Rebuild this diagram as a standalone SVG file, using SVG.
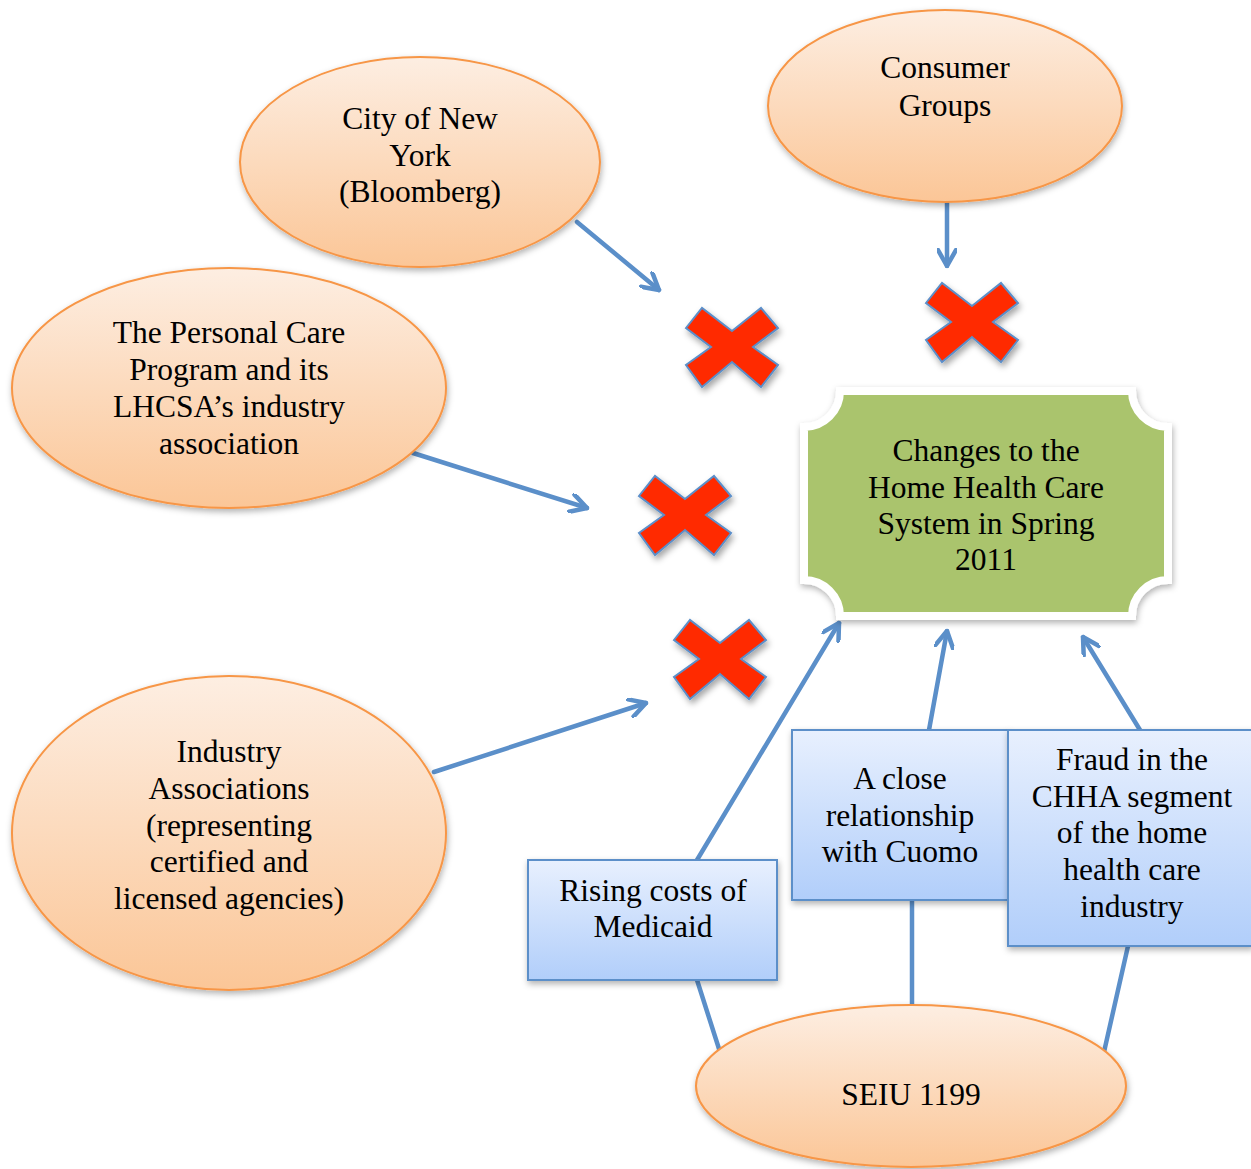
<svg xmlns="http://www.w3.org/2000/svg" width="1251" height="1169" viewBox="0 0 1251 1169">
<style>
text{font-family:"Liberation Serif","Times New Roman",serif;font-size:31.5px;fill:#000;text-anchor:middle}
.ell{fill:url(#peach);stroke:#f79646;stroke-width:2;filter:url(#sh)}
.box{fill:url(#blue);stroke:#5b8fc9;stroke-width:2;filter:url(#sh)}
.con{stroke:#5b8fc9;stroke-width:4.5;fill:none;stroke-linecap:round}
.arr{marker-end:url(#ah)}
.x{fill:#ff2a00;stroke:#5b8fc9;stroke-width:2;filter:url(#sh2)}
</style>
<defs>
<linearGradient id="peach" x1="0" y1="0" x2="0" y2="1">
<stop offset="0" stop-color="#fdeee2"/>
<stop offset="1" stop-color="#fbc697"/>
</linearGradient>
<linearGradient id="blue" x1="0" y1="0" x2="0" y2="1">
<stop offset="0" stop-color="#e8f0fe"/>
<stop offset="1" stop-color="#b1cefa"/>
</linearGradient>
<filter id="sh" x="-10%" y="-10%" width="125%" height="130%">
<feDropShadow dx="1" dy="3" stdDeviation="3" flood-color="#000" flood-opacity="0.3"/>
</filter>
<filter id="sh2" x="-20%" y="-20%" width="150%" height="150%">
<feDropShadow dx="2" dy="4" stdDeviation="3" flood-color="#000" flood-opacity="0.35"/>
</filter>
<marker id="ah" viewBox="0 0 20 20" refX="18" refY="10" markerWidth="20" markerHeight="20" markerUnits="userSpaceOnUse" orient="auto">
<path d="M2,1 L18,10 L2,19" fill="none" stroke="#5b8fc9" stroke-width="4.5" stroke-linecap="round" stroke-linejoin="round"/>
</marker>
<path id="xm" d="M-46,-19 L-30,-39 L0,-16 L29,-39 L46,-19 L21,0 L46,18 L29,40 L0,15 L-30,40 L-46,18 L-21,0 Z"/>
</defs>
<rect width="1251" height="1169" fill="#fff"/>

<g id="connectors">
<line class="con arr" x1="577" y1="222" x2="659" y2="290"/>
<line class="con arr" x1="947" y1="198" x2="947" y2="266"/>
<line class="con arr" x1="413" y1="453" x2="587" y2="508"/>
<line class="con arr" x1="434" y1="772" x2="646" y2="703"/>
<line class="con arr" x1="697" y1="860" x2="839" y2="623"/>
<line class="con arr" x1="929" y1="730" x2="947" y2="631"/>
<line class="con arr" x1="1140" y1="730" x2="1083" y2="637"/>
<line class="con" x1="697" y1="980" x2="720" y2="1052"/>
<line class="con" x1="912" y1="900" x2="912" y2="1005"/>
<line class="con" x1="1128" y1="946" x2="1104" y2="1052"/>
</g>

<g id="crosses">
<use href="#xm" class="x" x="732" y="347"/>
<use href="#xm" class="x" x="972" y="322"/>
<use href="#xm" class="x" x="685" y="515"/>
<use href="#xm" class="x" x="720" y="659"/>
</g>

<g id="node-city">
<ellipse class="ell" cx="420" cy="162" rx="180" ry="105"/>
<text x="420" y="129">City of New</text>
<text x="420" y="166">York</text>
<text x="420" y="202">(Bloomberg)</text>
</g>

<g id="node-consumer">
<ellipse class="ell" cx="945" cy="106" rx="177" ry="96"/>
<text x="945" y="78">Consumer</text>
<text x="945" y="116">Groups</text>
</g>

<g id="node-personal">
<ellipse class="ell" cx="229" cy="388" rx="217" ry="120"/>
<text x="229" y="343">The Personal Care</text>
<text x="229" y="380">Program and its</text>
<text x="229" y="417">LHCSA’s industry</text>
<text x="229" y="454">association</text>
</g>

<g id="node-industry">
<ellipse class="ell" cx="229" cy="833" rx="217" ry="157"/>
<text x="229" y="762">Industry</text>
<text x="229" y="799">Associations</text>
<text x="229" y="836">(representing</text>
<text x="229" y="872">certified and</text>
<text x="229" y="909">licensed agencies)</text>
</g>

<g id="node-changes">
<path d="M840,391 H1132 A36,36 0 0 0 1168,427 V580 A36,36 0 0 0 1132,616 H840 A36,36 0 0 0 804,580 V427 A36,36 0 0 0 840,391 Z" fill="#aac46d" stroke="#fff" stroke-width="8" filter="url(#sh)"/>
<text x="986" y="461">Changes to the</text>
<text x="986" y="498">Home Health Care</text>
<text x="986" y="534">System in Spring</text>
<text x="986" y="570">2011</text>
</g>

<g id="node-rising">
<rect class="box" x="528" y="860" width="249" height="120"/>
<text x="653" y="901">Rising costs of</text>
<text x="653" y="937">Medicaid</text>
</g>

<g id="node-close">
<rect class="box" x="792" y="730" width="216" height="170"/>
<text x="900" y="789">A close</text>
<text x="900" y="826">relationship</text>
<text x="900" y="862">with Cuomo</text>
</g>

<g id="node-fraud">
<rect class="box" x="1008" y="730" width="244" height="216"/>
<text x="1132" y="770">Fraud in the</text>
<text x="1132" y="807">CHHA segment</text>
<text x="1132" y="843">of the home</text>
<text x="1132" y="880">health care</text>
<text x="1132" y="917">industry</text>
</g>

<g id="node-seiu">
<ellipse class="ell" cx="911" cy="1086" rx="215" ry="81"/>
<text x="911" y="1105">SEIU 1199</text>
</g>
</svg>
